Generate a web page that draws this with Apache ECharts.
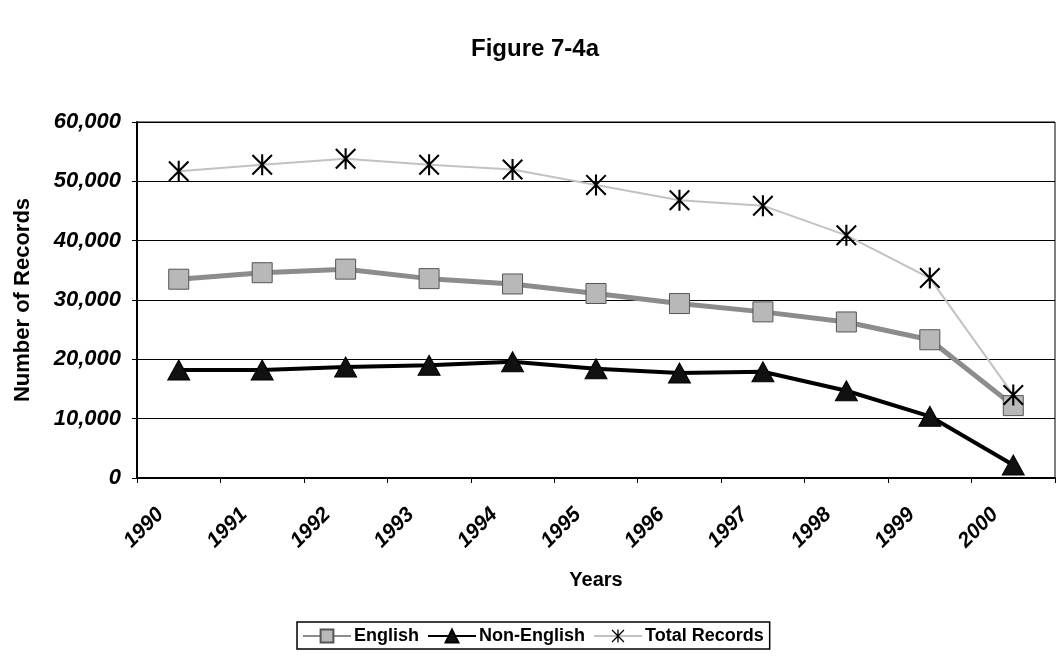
<!DOCTYPE html>
<html>
<head>
<meta charset="utf-8">
<script src="https://cdn.jsdelivr.net/npm/echarts@6/dist/echarts.min.js"></script>
<style>html,body{margin:0;padding:0;background:#fff;}#c{width:1058px;height:660px;}</style>
</head>
<body>
<div id="c"></div>
<script>
var years = ['1990','1991','1992','1993','1994','1995','1996','1997','1998','1999','2000'];
var english = [33500, 34600, 35200, 33600, 32700, 31100, 29400, 28000, 26300, 23300, 12200];
var nonEnglish = [18200, 18200, 18700, 19000, 19600, 18400, 17700, 17900, 14700, 10400, 2200];
var totalRecords = [51700, 52800, 53800, 52800, 52000, 49400, 46800, 45900, 40900, 33700, 14000];
var yTicks = [0, 10000, 20000, 30000, 40000, 50000, 60000];

var asterisk = 'path://M9,0 L11,0 L11,20 L9,20 Z M1.4,0 L20,18.6 L18.6,20 L0,1.4 Z M18.6,0 L20,1.4 L1.4,20 L0,18.6 Z';
var font = 'Liberation Sans, Arial, sans-serif';

var chart = echarts.init(document.getElementById('c'), null, {renderer: 'canvas'});
chart.setOption({
  backgroundColor: '#ffffff',
  animation: false,
  title: {
    text: 'Figure 7-4a',
    left: 530, top: 32, textAlign: 'center',
    textStyle: {fontFamily: font, fontSize: 24, fontWeight: 'bold', color: '#000'}
  },
  grid: {left: 137, right: 3, top: 122, bottom: 182, show: true, borderColor: '#000', borderWidth: 1},
  legend: {
    data: ['English', 'Non-English', 'Total Records'],
    left: 297, top: 622,
    padding: [5, 6, 4, 5],
    itemGap: 8,
    itemWidth: 48, itemHeight: 16,
    borderColor: '#000', borderWidth: 1.5,
    textStyle: {fontFamily: font, fontSize: 18, fontWeight: 'bold', color: '#000', padding: [0, 0, 0, -2]}
  },
  graphic: [
    {type: 'text', x: 596, y: 570, style: {text: 'Years', align: 'center', verticalAlign: 'top', fontFamily: font, fontSize: 20, fontWeight: 'bold', fill: '#000'}}
  ],
  xAxis: {
    type: 'category',
    data: years,
    boundaryGap: true,
    axisLine: {lineStyle: {color: '#000', width: 2}},
    axisTick: {show: true, length: 5, lineStyle: {color: '#000'}},
    axisLabel: {
      interval: 0, hideOverlap: false,
      rotate: 45, margin: 15, padding: [0, 26, 0, 0],
      fontFamily: font, fontSize: 21, fontWeight: 'bold', fontStyle: 'italic', color: '#000'
    }
  },
  yAxis: {
    type: 'value',
    min: 0, max: 60000, interval: 10000,
    name: 'Number of Records',
    nameLocation: 'middle',
    nameGap: 103,
    nameRotate: 90,
    nameTextStyle: {fontFamily: font, fontSize: 22, fontWeight: 'bold', color: '#000'},
    axisLine: {show: true, lineStyle: {color: '#000', width: 2}},
    axisTick: {show: true, length: 5, lineStyle: {color: '#000'}},
    axisLabel: {
      margin: 16,
      fontFamily: font, fontSize: 22, fontWeight: 'bold', fontStyle: 'italic', color: '#000',
      formatter: function (v) { return yTicks.indexOf(v) >= 0 ? v.toLocaleString('en-US') : ''; }
    },
    splitLine: {show: true, lineStyle: {color: '#000', width: 1}}
  },
  series: [
    {
      name: 'English', type: 'line', data: english,
      symbol: 'rect', symbolSize: 20,
      itemStyle: {color: '#b8b8b8', borderColor: '#555', borderWidth: 1},
      lineStyle: {color: '#8c8c8c', width: 5}
    },
    {
      name: 'Non-English', type: 'line', data: nonEnglish,
      symbol: 'triangle', symbolSize: [22, 20],
      itemStyle: {color: '#111', borderColor: '#000', borderWidth: 1},
      lineStyle: {color: '#000', width: 4}
    },
    {
      name: 'Total Records', type: 'line', data: totalRecords,
      symbol: asterisk, symbolSize: 21,
      itemStyle: {color: '#000'},
      lineStyle: {color: '#c2c2c2', width: 2}
    }
  ]
});
</script>
</body>
</html>
